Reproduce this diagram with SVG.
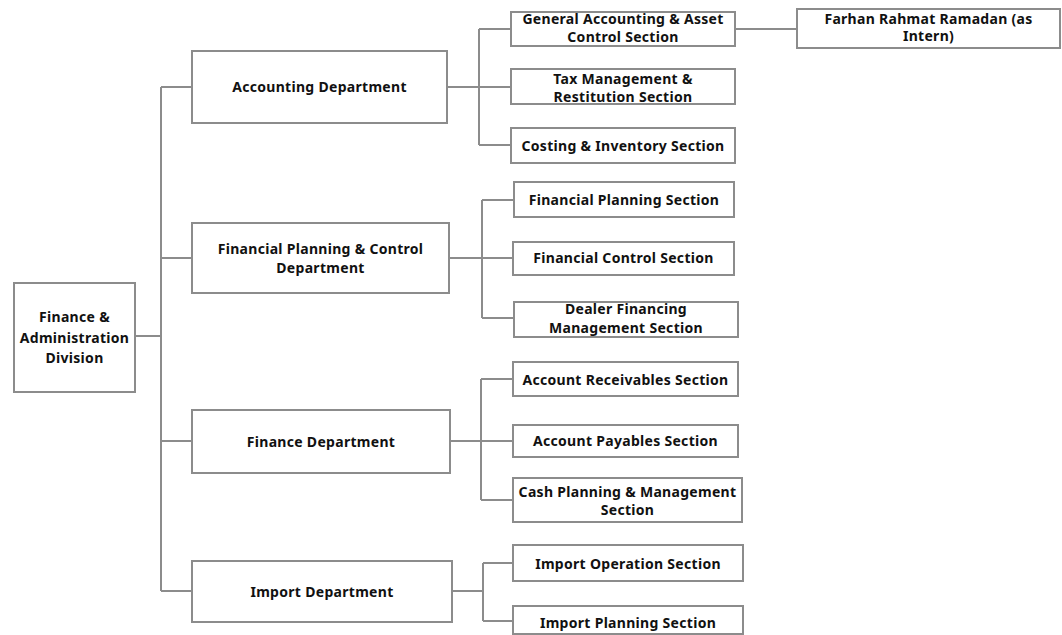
<svg xmlns="http://www.w3.org/2000/svg" width="1062" height="635" viewBox="0 0 1062 635">
  <style>
    .box { fill: #ffffff; stroke: #8c8c8c; stroke-width: 2; }
    .lbl { font-family: "Noto Sans", "Open Sans", "Liberation Sans", sans-serif; font-size: 14px; font-weight: bold; fill: #111111; text-anchor: middle; letter-spacing: 0.3px; }
    .wire { fill: none; stroke: #8c8c8c; stroke-width: 2; }
  </style>
  <rect width="1062" height="635" fill="#ffffff"/>

  <!-- connectors -->
  <g id="connectors" class="wire">
    <path d="M135,336 H161"/>
    <path d="M161,87 V591"/>
    <path d="M161,87 H192 M161,258 H192 M161,441 H192 M161,591 H192"/>
    <!-- accounting -->
    <path d="M447,87 H511 M479,29 V145 M479,29 H511 M479,145 H511"/>
    <path d="M735,29 H797"/>
    <!-- financial planning & control -->
    <path d="M449,258 H513 M482,200 V318 M482,200 H514 M482,318 H514"/>
    <!-- finance -->
    <path d="M450,441 H513 M481,379 V500 M481,379 H513 M481,500 H513"/>
    <!-- import -->
    <path d="M452,591 H483 M483,563 V621 M483,563 H513 M483,621 H513"/>
  </g>

  <g id="division">
    <rect class="box" x="14" y="283" width="121" height="109"/>
    <text class="lbl" x="74.5" y="322">Finance &amp;</text>
    <text class="lbl" x="74.5" y="343">Administration</text>
    <text class="lbl" x="74.5" y="363">Division</text>
  </g>

  <g id="accounting-dept">
    <rect class="box" x="192" y="51" width="255" height="72"/>
    <text class="lbl" x="319.5" y="92">Accounting Department</text>
  </g>
  <g id="fpc-dept">
    <rect class="box" x="192" y="223" width="257" height="70"/>
    <text class="lbl" x="320.5" y="254">Financial Planning &amp; Control</text>
    <text class="lbl" x="320.5" y="273">Department</text>
  </g>
  <g id="finance-dept">
    <rect class="box" x="192" y="410" width="258" height="63"/>
    <text class="lbl" x="321" y="447">Finance Department</text>
  </g>
  <g id="import-dept">
    <rect class="box" x="192" y="561" width="260" height="61"/>
    <text class="lbl" x="322" y="597">Import Department</text>
  </g>

  <g id="general-accounting">
    <rect class="box" x="511" y="12" width="224" height="34"/>
    <text class="lbl" x="623" y="24">General Accounting &amp; Asset</text>
    <text class="lbl" x="623" y="42">Control Section</text>
  </g>
  <g id="tax">
    <rect class="box" x="511" y="69" width="224" height="35"/>
    <text class="lbl" x="623" y="84">Tax Management &amp;</text>
    <text class="lbl" x="623" y="102">Restitution Section</text>
  </g>
  <g id="costing">
    <rect class="box" x="511" y="128" width="224" height="35"/>
    <text class="lbl" x="623" y="151">Costing &amp; Inventory Section</text>
  </g>
  <g id="intern">
    <rect class="box" x="797" y="9" width="263" height="39"/>
    <text class="lbl" x="928.5" y="24">Farhan Rahmat Ramadan (as</text>
    <text class="lbl" x="928.5" y="41">Intern)</text>
  </g>

  <g id="financial-planning">
    <rect class="box" x="514" y="182" width="220" height="35"/>
    <text class="lbl" x="624" y="205">Financial Planning Section</text>
  </g>
  <g id="financial-control">
    <rect class="box" x="513" y="242" width="221" height="33"/>
    <text class="lbl" x="623.5" y="263">Financial Control Section</text>
  </g>
  <g id="dealer-financing">
    <rect class="box" x="514" y="302" width="224" height="35"/>
    <text class="lbl" x="626" y="314">Dealer Financing</text>
    <text class="lbl" x="626" y="333">Management Section</text>
  </g>

  <g id="receivables">
    <rect class="box" x="513" y="362" width="225" height="34"/>
    <text class="lbl" x="625.5" y="385">Account Receivables Section</text>
  </g>
  <g id="payables">
    <rect class="box" x="513" y="425" width="225" height="32"/>
    <text class="lbl" x="625.5" y="446">Account Payables Section</text>
  </g>
  <g id="cash-planning">
    <rect class="box" x="513" y="478" width="229" height="44"/>
    <text class="lbl" x="627.5" y="497">Cash Planning &amp; Management</text>
    <text class="lbl" x="627.5" y="515">Section</text>
  </g>

  <g id="import-operation">
    <rect class="box" x="513" y="545" width="230" height="36"/>
    <text class="lbl" x="628" y="569">Import Operation Section</text>
  </g>
  <g id="import-planning">
    <rect class="box" x="513" y="606" width="230" height="28"/>
    <text class="lbl" x="628" y="628">Import Planning Section</text>
  </g>
</svg>
